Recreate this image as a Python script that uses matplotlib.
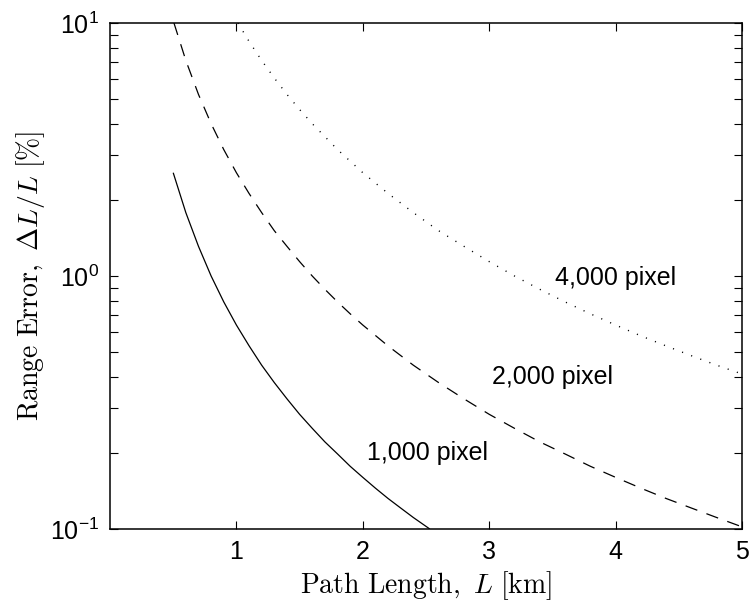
import matplotlib
matplotlib.use("Agg")
import matplotlib.pyplot as plt
from matplotlib.ticker import LogLocator, FixedLocator, NullFormatter

plt.rcParams["lines.scale_dashes"] = False
plt.rcParams["mathtext.fontset"] = "cm"
plt.rcParams["font.family"] = ["Liberation Sans", "DejaVu Sans"]

# Range error vs. path length for three camera resolutions
len_1000 = [0.5, 0.6, 0.7, 0.8, 0.9, 1.0, 1.1, 1.2, 1.3, 1.4, 1.5, 1.6, 1.7,
            1.8, 1.9, 2.0, 2.1, 2.2, 2.3, 2.4, 2.53]
err_1000 = [2.56, 1.78, 1.31, 1.00, 0.79, 0.64, 0.53, 0.444, 0.379, 0.327,
            0.284, 0.25, 0.221, 0.198, 0.177, 0.16, 0.145, 0.132, 0.121,
            0.111, 0.100]

len_2000 = [0.506, 0.6, 0.7, 0.8, 0.9, 1.0, 1.1, 1.2, 1.3, 1.4, 1.5, 1.6,
            1.7, 1.8, 1.9, 2.0, 2.2, 2.4, 2.6, 2.8, 3.0, 3.2, 3.4, 3.6, 3.8,
            4.0, 4.2, 4.4, 4.6, 4.8, 5.0]
err_2000 = [10.0, 7.11, 5.22, 4.00, 3.16, 2.56, 2.12, 1.78, 1.51, 1.31, 1.14,
            1.00, 0.886, 0.790, 0.709, 0.640, 0.529, 0.444, 0.379, 0.327,
            0.284, 0.25, 0.221, 0.198, 0.177, 0.160, 0.145, 0.132, 0.121,
            0.111, 0.102]

len_4000 = [1.012, 1.1, 1.2, 1.3, 1.4, 1.5, 1.6, 1.8, 2.0, 2.2, 2.4, 2.6,
            2.8, 3.0, 3.2, 3.4, 3.6, 3.8, 4.0, 4.2, 4.4, 4.6, 4.8, 5.0]
err_4000 = [10.0, 8.46, 7.11, 6.06, 5.22, 4.55, 4.00, 3.16, 2.56, 2.12, 1.78,
            1.51, 1.31, 1.14, 1.00, 0.886, 0.790, 0.709, 0.640, 0.580, 0.529,
            0.484, 0.444, 0.410]

series_labels = ["1,000 pixel", "2,000 pixel", "4,000 pixel"]
label_pos = [(2.51, 0.20), (3.50, 0.40), (4.00, 0.98)]
x_ticks = [1, 2, 3, 4, 5]

fig = plt.figure(figsize=(7.51, 6.07), dpi=100)
ax = fig.add_axes([110 / 751, 1 - 529 / 607, 632 / 751, 506 / 607])

ax.plot(len_1000, err_1000, color="black", lw=0.9, solid_capstyle="butt")
ax.plot(len_2000, err_2000, color="black", lw=0.9, dashes=(9, 7))
ax.plot(len_4000, err_4000, color="black", lw=1.0, dashes=(0.8, 6.2))

for text, (x, y) in zip(series_labels, label_pos):
    ax.text(x, y, text, fontsize=18, ha="center", va="center")

ax.set_yscale("log")
ax.set_xlim(0, 5)
ax.set_ylim(0.1, 10)
ax.xaxis.set_major_locator(FixedLocator(x_ticks))
ax.yaxis.set_major_locator(LogLocator(base=10, numticks=5))
ax.yaxis.set_minor_locator(LogLocator(base=10, subs=range(2, 10), numticks=20))
ax.yaxis.set_minor_formatter(NullFormatter())

ax.tick_params(which="both", direction="in", top=True, right=True,
               labelsize=18, width=0.8, pad=8)
ax.tick_params(which="major", length=5.5)
ax.tick_params(which="minor", length=5.5)
for s in ax.spines.values():
    s.set_linewidth(1.1)

ax.set_xlabel(r"$\mathrm{Path\ Length,}\ L\ \mathrm{[km]}$", fontsize=20,
              labelpad=4)
ax.set_ylabel(r"$\mathrm{Range\ Error,}\ \Delta L/L\ \mathrm{[\%]}$",
              fontsize=20, labelpad=2)

fig.savefig("out.png", dpi=100)
